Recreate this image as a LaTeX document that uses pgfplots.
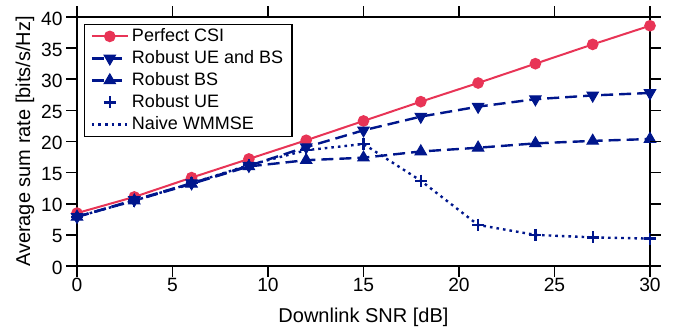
\documentclass[border=0pt]{standalone}
\usepackage{fontspec}
\setmainfont{Liberation Sans}
\usepackage{pgfplots}
\pgfplotsset{compat=1.18}
\definecolor{cred}{RGB}{232,52,86}
\definecolor{cblue}{RGB}{0,22,140}
\pgfplotsset{
  mylinelegend/.style={legend image code/.code={\draw[mark repeat=2,mark phase=2,##1] plot coordinates {(0pt,0pt) (9pt,0pt) (18pt,0pt)};}},
  mymarklegend/.style={legend image code/.code={\draw[##1] plot coordinates {(9pt,0pt)};}},
}
\begin{document}
\begin{tikzpicture}
\begin{axis}[name=ax, at={(0,0)}, anchor=south west,
  scale only axis, width=286.5pt, height=124.5pt,
  xmin=0, xmax=30, ymin=0, ymax=40,
  xtick={0,5,...,30}, ytick={0,5,...,40},
  axis line style={line width=0.8pt},
  xtick style={draw=none},
  ytick style={draw=none},
  /pgf/number format/assume math mode=true,
  tick label style={font=\fontsize{9.6}{11}\selectfont},
  label style={font=\fontsize{10}{12}\selectfont},
  xticklabel style={anchor=base, yshift=-12.8pt},
  yticklabel style={anchor=east, inner xsep=0pt, xshift=-7pt, yshift=-0.8pt},
  xlabel={Downlink SNR [dB]},
  ylabel={Average sum rate [bits/s/Hz]},
  xlabel style={at={(axis description cs:0.5,0)}, anchor=base, yshift=-28pt},
  ylabel style={at={(axis description cs:-0.082,0.5)}, anchor=base},
  clip=false,
  legend cell align=left,
  legend style={at={(rel axis cs:0,1)}, anchor=north west, xshift=3.5pt, yshift=-3.5pt,
    draw=black, line width=0.6pt, fill=white, inner xsep=3pt, inner ysep=1.4pt,
    font=\fontsize{9}{10.8}\selectfont,
    nodes={inner xsep=1.5pt, inner ysep=0pt, text height=7pt, text depth=2pt},
    row sep=2pt, column sep=0pt},
]
\addplot[cred, line width=1pt, mark=*, mark size=2.4pt, mark options={solid, fill=cred}, mylinelegend]
  coordinates {(0,8.5)(3,11.1)(6,14.2)(9,17.2)(12,20.2)(15,23.3)(18,26.4)(21,29.4)(24,32.5)(27,35.6)(30,38.6)};
\addlegendentry{Perfect CSI}
\addplot[cblue, line width=1.2pt, dash pattern=on 6pt off 3pt, mark=triangle*, mark size=3.3pt, mark options={solid, rotate=180, fill=cblue, line width=0.5pt}, mylinelegend]
  coordinates {(0,7.9)(3,10.6)(6,13.3)(9,16.1)(12,19.1)(15,21.8)(18,24.0)(21,25.6)(24,26.8)(27,27.4)(30,27.8)};
\addlegendentry{Robust UE and BS}
\addplot[cblue, line width=1.2pt, dash pattern=on 6pt off 3pt, mark=triangle*, mark size=3.3pt, mark options={solid, fill=cblue, line width=0.5pt}, mylinelegend]
  coordinates {(0,7.9)(3,10.5)(6,13.2)(9,16.0)(12,17.0)(15,17.4)(18,18.4)(21,19.0)(24,19.7)(27,20.1)(30,20.4)};
\addlegendentry{Robust BS}
\addplot[cblue, line width=1.2pt, only marks, mark=+, mark size=3pt, mark options={solid}, mymarklegend]
  coordinates {(0,7.9)(3,10.5)(6,13.3)(9,16.2)(12,18.6)(15,19.6)(18,13.7)(21,6.6)(24,5.0)(27,4.6)(30,4.4)};
\addlegendentry{Robust UE}
\addplot[cblue, line width=1.2pt, dash pattern=on 1.3pt off 2pt, mylinelegend]
  coordinates {(0,7.9)(3,10.5)(6,13.3)(9,16.2)(12,18.6)(15,19.6)(18,13.7)(21,6.6)(24,5.0)(27,4.6)(30,4.4)};
\addlegendentry{Naive WMMSE}
\end{axis}
% outward tick marks on all four sides of the box
\foreach \i in {0,...,6} {
  \draw[black, line width=0.8pt] ({\i*47.75pt},0pt) -- ++(0pt,-5.3pt);
  \draw[black, line width=0.8pt] ({\i*47.75pt},124.5pt) -- ++(0pt,5.3pt);
}
\foreach \j in {0,...,8} {
  \draw[black, line width=0.8pt] (0pt,{\j*15.5625pt}) -- ++(-5.3pt,0pt);
  \draw[black, line width=0.8pt] (286.5pt,{\j*15.5625pt}) -- ++(5.3pt,0pt);
}
\pgfresetboundingbox
\path[use as bounding box] (-38.5pt,-31pt) rectangle (298.5pt,133pt);
\end{tikzpicture}
\end{document}
